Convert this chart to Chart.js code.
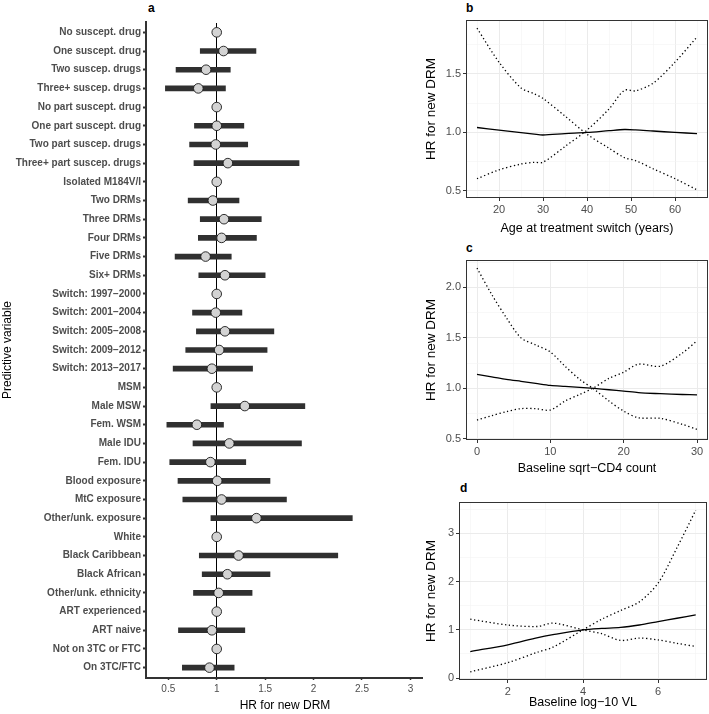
<!DOCTYPE html>
<html>
<head>
<meta charset="utf-8">
<script src="https://cdn.jsdelivr.net/npm/chart.js@4.4.1/dist/chart.umd.min.js"></script>
<style>
  body { margin: 0; background: #fff; width: 709px; height: 714px; position: relative; overflow: hidden; }
  .panel { position: absolute; }
  .tag { position: absolute; font: bold 12px "Liberation Sans", Arial, sans-serif; color: #000; }
</style>
</head>
<body>
<div class="tag" style="left:148px;top:1px">a</div>
<div class="tag" style="left:466px;top:1px">b</div>
<div class="tag" style="left:466px;top:241px">c</div>
<div class="tag" style="left:460px;top:481px">d</div>

<div class="panel" style="left:420px;top:0;width:289px;height:240px"><canvas id="age"></canvas></div>
<div class="panel" style="left:420px;top:240px;width:289px;height:240px"><canvas id="cd4"></canvas></div>
<div class="panel" style="left:420px;top:480px;width:289px;height:234px"><canvas id="vl"></canvas></div>
<div class="panel" style="left:0;top:0;width:440px;height:714px"><canvas id="forest"></canvas></div>

<script>
// ---- panel a: hazard ratios per predictor (null = reference level) ----
const rowLabels = [
    'No suscept. drug', 'One suscept. drug', 'Two suscep. drugs', 'Three+ suscep. drugs',
    'No part suscept. drug', 'One part suscept. drug', 'Two part suscep. drugs', 'Three+ part suscep. drugs',
    'Isolated M184V/I', 'Two DRMs', 'Three DRMs', 'Four DRMs', 'Five DRMs', 'Six+ DRMs',
    'Switch: 1997\u22122000', 'Switch: 2001\u22122004', 'Switch: 2005\u22122008', 'Switch: 2009\u22122012', 'Switch: 2013\u22122017',
    'MSM', 'Male MSW', 'Fem. WSM', 'Male IDU', 'Fem. IDU',
    'Blood exposure', 'MtC exposure', 'Other/unk. exposure',
    'White', 'Black Caribbean', 'Black African', 'Other/unk. ethnicity',
    'ART experienced', 'ART naive', 'Not on 3TC or FTC', 'On 3TC/FTC'
];
const hr = [1, 1.07, 0.89, 0.81, 1, 1.0, 0.99, 1.115, 1, 0.96, 1.075, 1.05, 0.885, 1.085,
    1, 0.99, 1.085, 1.025, 0.95, 1, 1.29, 0.795, 1.13, 0.935, 1.005, 1.05, 1.41,
    1, 1.225, 1.11, 1.02, 1, 0.95, 1, 0.925];
const ciLo = [null, 0.83, 0.58, 0.47, null, 0.77, 0.72, 0.765, null, 0.705, 0.83, 0.81, 0.57, 0.815,
    null, 0.75, 0.79, 0.68, 0.55, null, 0.94, 0.485, 0.755, 0.515, 0.60, 0.65, 0.94,
    null, 0.82, 0.85, 0.76, null, 0.605, null, 0.645];
const ciHi = [null, 1.405, 1.14, 1.09, null, 1.28, 1.32, 1.85, null, 1.23, 1.46, 1.41, 1.15, 1.50,
    null, 1.26, 1.59, 1.52, 1.37, null, 1.91, 1.07, 1.875, 1.30, 1.55, 1.72, 2.40,
    null, 2.25, 1.55, 1.365, null, 1.29, null, 1.18];
const hrTicks = [0.5, 1, 1.5, 2, 2.5, 3];

// ---- panel b: age at switch ----
const ageX = [15, 20, 25, 28, 30, 35, 40, 45, 48.5, 51, 55, 60, 65];
const ageHR = [1.042, 1.02, 0.998, 0.985, 0.978, 0.99, 1.0, 1.015, 1.025, 1.022, 1.012, 1.0, 0.99];
const ageCiFalling = [1.89, 1.6, 1.38, 1.33, 1.29, 1.14, 0.985, 0.865, 0.785, 0.76, 0.69, 0.605, 0.51];
const ageCiRising = [0.605, 0.68, 0.73, 0.745, 0.745, 0.88, 1.02, 1.2, 1.36, 1.355, 1.42, 1.6, 1.815];

// ---- panel c: baseline sqrt-CD4 ----
const cd4X = [0, 2, 4, 6, 8, 10, 12, 14, 16, 18, 20, 22, 25, 28, 30];
const cd4HR = [1.138, 1.115, 1.09, 1.07, 1.05, 1.03, 1.02, 1.01, 1.0, 0.987, 0.974, 0.958, 0.948, 0.94, 0.937];
const cd4CiFalling = [2.19, 1.93, 1.70, 1.50, 1.43, 1.36, 1.22, 1.09, 0.99, 0.875, 0.776, 0.71, 0.704, 0.645, 0.595];
const cd4CiRising = [0.6875, 0.73, 0.77, 0.80, 0.80, 0.786, 0.875, 0.94, 1.01, 1.10, 1.16, 1.24, 1.22, 1.35, 1.47];

// ---- panel d: baseline log10 VL ----
const vlX = [1, 2, 2.8, 3.2, 4, 4.5, 5, 5.5, 6, 6.5, 7];
const vlHR = [0.55, 0.69, 0.84, 0.9, 1.0, 1.03, 1.05, 1.1, 1.17, 1.24, 1.31];
const vlCiFalling = [1.22, 1.10, 1.07, 1.14, 1.0, 0.92, 0.78, 0.83, 0.79, 0.72, 0.655];
const vlCiRising = [0.13, 0.32, 0.54, 0.64, 1.0, 1.22, 1.40, 1.58, 1.97, 2.7, 3.48];

const FONT = '"Liberation Sans", Arial, sans-serif';
Chart.defaults.font.family = FONT;
Chart.defaults.animation = false;

const near = (list, v) => list.some(m => Math.abs(m - v) < 1e-9);

// panel border (theme_bw style)
const framePlugin = {
    id: 'frame',
    afterDraw(chart) {
        const a = chart.chartArea;
        const c = chart.ctx;
        c.save();
        c.strokeStyle = '#333';
        c.lineWidth = 1;
        c.strokeRect(a.left + 0.5, a.top + 0.5, a.right - a.left - 1, a.bottom - a.top - 1);
        c.restore();
    }
};

// left + bottom axis lines (theme_classic style)
const axisLinesPlugin = {
    id: 'axisLines',
    afterDraw(chart) {
        const a = chart.chartArea;
        const c = chart.ctx;
        c.save();
        c.strokeStyle = '#333';
        c.lineWidth = 2;
        c.beginPath();
        c.moveTo(a.left - 1, a.top - 2);
        c.lineTo(a.left - 1, a.bottom + 1);
        c.lineTo(a.right, a.bottom + 1);
        c.stroke();
        c.restore();
    }
};

/**
 * Builds a linear axis with major + minor grid lines, ggplot theme_bw look
 */
function bwAxis(opts) {
    const all = opts.majors.concat(opts.minors).sort((p, q) => p - q);
    return {
        type: 'linear',
        min: opts.min,
        max: opts.max,
        afterBuildTicks: (scale) => { scale.ticks = all.map(v => ({ value: v })); },
        afterFit: (scale) => {
            if (opts.width !== undefined) scale.width = opts.width;
            if (opts.height !== undefined) scale.height = opts.height;
        },
        ticks: {
            color: '#4d4d4d',
            font: { size: 11 },
            padding: 2,
            autoSkip: false,
            maxRotation: 0,
            callback: (v) => near(opts.majors, v) ? opts.fmt(v) : ''
        },
        grid: {
            color: (ctx) => ctx.tick && near(opts.majors, ctx.tick.value) ? '#ebebeb' : '#f3f3f3',
            lineWidth: (ctx) => ctx.tick && near(opts.majors, ctx.tick.value) ? 1 : 0.6,
            tickColor: (ctx) => ctx.tick && near(opts.majors, ctx.tick.value) ? '#333' : 'rgba(0,0,0,0)',
            tickWidth: 1,
            tickLength: 3
        },
        border: { display: false },
        title: {
            display: true,
            text: opts.title,
            color: '#000',
            font: { size: opts.titleSize },
            padding: opts.titlePad
        }
    };
}

function curveChart(id, xs, est, ciA, ciB, xAxis, yAxis, padding) {
    const pts = (ys) => xs.map((x, i) => ({ x: x, y: ys[i] }));
    const dotted = { borderColor: '#000', borderWidth: 1.3, borderDash: [1.3, 2.6], pointRadius: 0, tension: 0.3 };
    return new Chart(document.getElementById(id), {
        type: 'scatter',
        data: {
            datasets: [
                { data: pts(est), showLine: true, borderColor: '#000', borderWidth: 1.3, pointRadius: 0, tension: 0.3 },
                Object.assign({ data: pts(ciA), showLine: true }, dotted),
                Object.assign({ data: pts(ciB), showLine: true }, dotted)
            ]
        },
        options: {
            responsive: true,
            maintainAspectRatio: false,
            layout: { padding: padding },
            plugins: { legend: { display: false }, tooltip: { enabled: false } },
            scales: { x: xAxis, y: yAxis }
        },
        plugins: [framePlugin]
    });
}

// ---- panel a ----
new Chart(document.getElementById('forest'), {
    type: 'bar',
    data: {
        labels: rowLabels,
        datasets: [
            {
                type: 'line',
                indexAxis: 'y',
                data: hr,
                showLine: false,
                pointRadius: 4.8,
                pointBackgroundColor: '#d3d3d3',
                pointBorderColor: '#1a1a1a',
                pointBorderWidth: 0.9
            },
            {
                type: 'bar',
                data: ciLo.map((lo, i) => lo === null ? null : [lo, ciHi[i]]),
                backgroundColor: '#303030',
                barThickness: 5
            }
        ]
    },
    options: {
        indexAxis: 'y',
        responsive: true,
        maintainAspectRatio: false,
        layout: { padding: { top: 23, right: 17, left: 0, bottom: 0 } },
        plugins: { legend: { display: false }, tooltip: { enabled: false } },
        scales: {
            x: {
                type: 'linear',
                min: 0.28,
                max: 3.13,
                afterBuildTicks: (scale) => { scale.ticks = hrTicks.map(v => ({ value: v })); },
                afterFit: (scale) => { scale.height = 37; },
                ticks: { color: '#4d4d4d', font: { size: 10 }, padding: 3, callback: (v) => String(v) },
                grid: {
                    color: (ctx) => ctx.tick && ctx.tick.value === 1 ? '#000' : 'rgba(0,0,0,0)',
                    tickColor: '#333',
                    tickWidth: 1.5,
                    tickLength: 3
                },
                border: { display: false },
                title: { display: true, text: 'HR for new DRM', color: '#000', font: { size: 12 }, padding: { top: 2, bottom: 1 } }
            },
            y: {
                type: 'category',
                afterFit: (scale) => { scale.width = 147; },
                ticks: { color: '#4d4d4d', font: { size: 10, weight: 'bold' }, padding: 2, autoSkip: false },
                grid: { offset: false, drawOnChartArea: false, color: '#333', tickColor: '#333', tickWidth: 2, tickLength: 4 },
                border: { display: false },
                title: { display: true, text: 'Predictive variable', color: '#000', font: { size: 12 }, padding: { top: 0, bottom: 0 } }
            }
        }
    },
    plugins: [axisLinesPlugin]
});

// ---- panel b ----
curveChart('age', ageX, ageHR, ageCiFalling, ageCiRising,
    bwAxis({ min: 12.5, max: 67.5, majors: [20, 30, 40, 50, 60], minors: [15, 25, 35, 45, 55, 65],
        fmt: v => String(v), title: 'Age at treatment switch (years)', titleSize: 12.5,
        titlePad: { top: 2, bottom: 4 }, height: 42 }),
    bwAxis({ min: 0.44, max: 1.96, majors: [0.5, 1.0, 1.5], minors: [0.75, 1.25, 1.75],
        fmt: v => v.toFixed(1), title: 'HR for new DRM', titleSize: 13.5,
        titlePad: { top: 3, bottom: 0 }, width: 46 }),
    { top: 20, right: 1, left: 0, bottom: 0 });

// ---- panel c ----
curveChart('cd4', cd4X, cd4HR, cd4CiFalling, cd4CiRising,
    bwAxis({ min: -1.5, max: 31.5, majors: [0, 10, 20, 30], minors: [5, 15, 25],
        fmt: v => String(v), title: 'Baseline sqrt\u2212CD4 count', titleSize: 12.5,
        titlePad: { top: 2, bottom: 4 }, height: 40 }),
    bwAxis({ min: 0.49, max: 2.27, majors: [0.5, 1.0, 1.5, 2.0], minors: [0.75, 1.25, 1.75, 2.25],
        fmt: v => v.toFixed(1), title: 'HR for new DRM', titleSize: 13.5,
        titlePad: { top: 3, bottom: 0 }, width: 46 }),
    { top: 20, right: 1, left: 0, bottom: 0 });

// ---- panel d ----
curveChart('vl', vlX, vlHR, vlCiFalling, vlCiRising,
    bwAxis({ min: 0.7, max: 7.3, majors: [2, 4, 6], minors: [1, 3, 5, 7],
        fmt: v => String(v), title: 'Baseline log\u221210 VL', titleSize: 12.5,
        titlePad: { top: 2, bottom: 4 }, height: 34 }),
    bwAxis({ min: -0.04, max: 3.65, majors: [0, 1, 2, 3], minors: [0.5, 1.5, 2.5, 3.5],
        fmt: v => String(v), title: 'HR for new DRM', titleSize: 13.5,
        titlePad: { top: 3, bottom: 0 }, width: 39 }),
    { top: 22, right: 2, left: 0, bottom: 0 });
</script>
</body>
</html>
